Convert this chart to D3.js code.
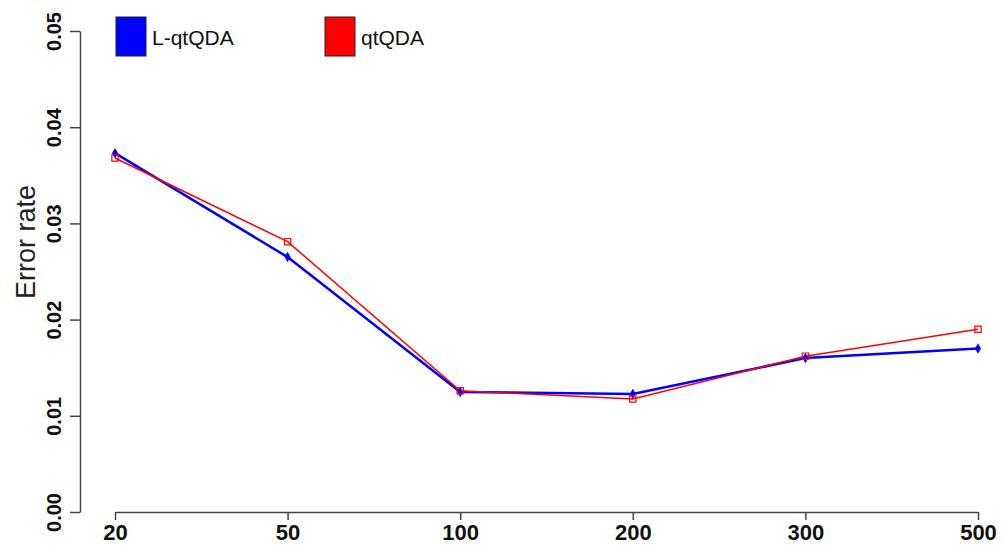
<!DOCTYPE html>
<html>
<head>
<meta charset="utf-8">
<script src="https://cdn.jsdelivr.net/npm/d3@7"></script>
<style>
  body { margin: 0; background: #fff; }
  svg { display: block; font-family: "Liberation Sans", Arial, sans-serif; }
</style>
</head>
<body>
<svg width="1003" height="548"></svg>
<script>
// sample sizes on the x axis
const sizes = ["20", "50", "100", "200", "300", "500"];
// error rates
const lqtqda = [0.0373, 0.0265, 0.01247, 0.01227, 0.0160, 0.0170];
const qtqda = [0.0368, 0.0281, 0.0126, 0.01175, 0.0162, 0.0190];
const yTicks = [0, 0.01, 0.02, 0.03, 0.04, 0.05];
const seriesNames = ["L-qtQDA", "qtQDA"];

const svg = d3.select("svg");

const xScale = d3.scalePoint()
    .domain(sizes)
    .range([115, 978]);

const yScale = d3.scaleLinear()
    .domain([0, 0.05])
    .range([512, 31]);

// y axis
const yAxis = d3.axisLeft(yScale)
    .tickValues(yTicks)
    .tickFormat(d3.format(".2f"))
    .tickSize(10)
    .tickSizeOuter(0);

const gy = svg.append("g")
    .attr("transform", "translate(80,0)")
    .call(yAxis);

gy.select(".domain").attr("stroke", "#444").attr("stroke-width", 1.5);
gy.selectAll(".tick line").attr("stroke", "#444").attr("stroke-width", 1.5);
gy.selectAll(".tick text")
    .attr("transform", "rotate(-90)")
    .attr("x", 0)
    .attr("y", -19)
    .attr("dy", null)
    .attr("text-anchor", "middle")
    .attr("fill", "#111")
    .style("font-size", "20px")
    .style("font-weight", "bold");

// x axis
const xAxis = d3.axisBottom(xScale)
    .tickSize(8)
    .tickSizeOuter(0);

const gx = svg.append("g")
    .attr("transform", "translate(0,512)")
    .call(xAxis);

gx.select(".domain").attr("stroke", "#444").attr("stroke-width", 1.5);
gx.selectAll(".tick line").attr("stroke", "#444").attr("stroke-width", 1.5);
gx.selectAll(".tick text")
    .attr("y", 12)
    .attr("fill", "#111")
    .style("font-size", "22px")
    .style("font-weight", "bold");

// y axis title
svg.append("text")
    .attr("transform", "translate(35,242) rotate(-90)")
    .attr("text-anchor", "middle")
    .attr("fill", "#222")
    .style("font-size", "27px")
    .text("Error rate");

// lines
const line = d3.line()
    .x((d, i) => xScale(sizes[i]))
    .y(d => yScale(d));

svg.append("path")
    .datum(lqtqda)
    .attr("fill", "none")
    .attr("stroke", "#0000ff")
    .attr("stroke-width", 2.5)
    .attr("d", line);

svg.append("path")
    .datum(qtqda)
    .attr("fill", "none")
    .attr("stroke", "#ff0000")
    .attr("stroke-width", 1.5)
    .attr("d", line);

// markers
svg.selectAll(".pt-blue")
    .data(lqtqda)
    .enter()
    .append("path")
    .attr("class", "pt-blue")
    .attr("transform", (d, i) => `translate(${xScale(sizes[i])},${yScale(d)})`)
    .attr("d", d3.symbol().type(d3.symbolDiamond).size(32))
    .attr("fill", "#0000ff");

svg.selectAll(".pt-red")
    .data(qtqda)
    .enter()
    .append("path")
    .attr("class", "pt-red")
    .attr("transform", (d, i) => `translate(${xScale(sizes[i])},${yScale(d)})`)
    .attr("d", d3.symbol().type(d3.symbolSquare).size(40))
    .attr("fill", "none")
    .attr("stroke", "#ff0000")
    .attr("stroke-width", 1.2);

// legend
const legendColors = ["#0000ff", "#ff0000"];
const legendX = [116, 325];

const legend = svg.selectAll(".legend")
    .data(seriesNames)
    .enter()
    .append("g")
    .attr("class", "legend")
    .attr("transform", (d, i) => `translate(${legendX[i]},17)`);

legend.append("rect")
    .attr("width", 30)
    .attr("height", 39)
    .attr("fill", (d, i) => legendColors[i])
    .attr("stroke", "#222")
    .attr("stroke-width", 1);

legend.append("text")
    .attr("x", 36)
    .attr("y", 28)
    .attr("fill", "#111")
    .style("font-size", "21px")
    .text(d => d);
</script>
</body>
</html>
